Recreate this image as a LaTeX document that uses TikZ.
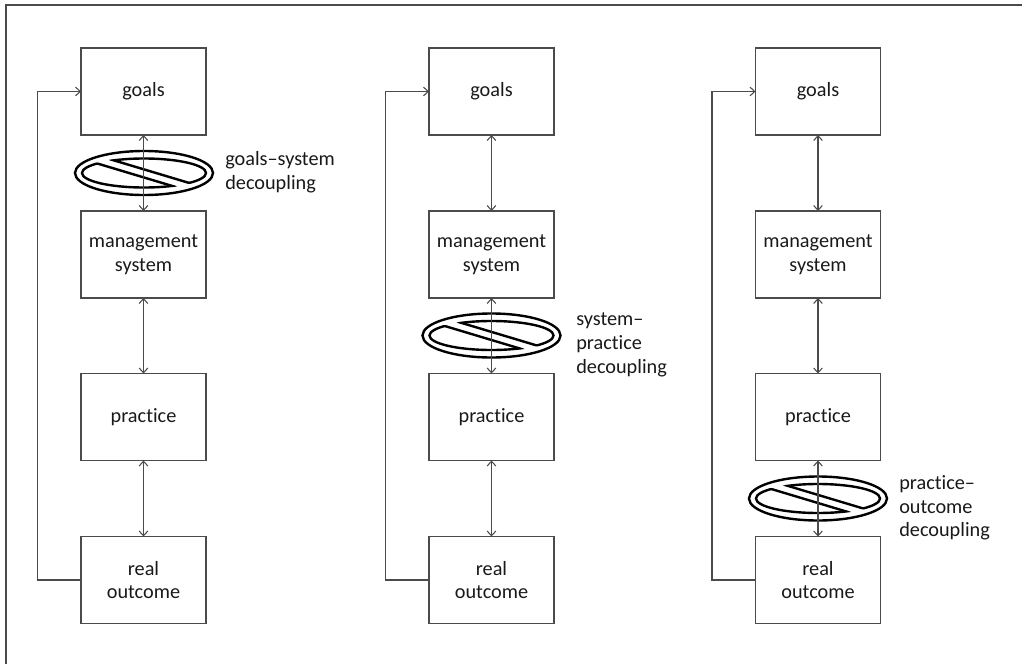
\documentclass[tikz,border=0pt]{standalone}
\usepackage{fontspec}
\setmainfont{Carlito}[Ligatures={NoCommon}]
\usetikzlibrary{arrows.meta}
\definecolor{linegray}{RGB}{75,75,75}
\definecolor{textgray}{RGB}{25,25,25}
\begin{document}
\begin{tikzpicture}[x=0.75pt,y=-0.75pt,
  box/.style={draw=linegray,line width=0.8pt,minimum width=93.75pt,minimum height=65.25pt,
    inner sep=0pt,outer sep=0pt,align=center,text=textgray,
    font=\fontsize{15.2}{17.8}\selectfont},
  lbl/.style={anchor=west,inner sep=0pt,align=left,text=textgray,
    font=\fontsize{15.2}{17.8}\selectfont},
  conn/.style={draw=linegray,line width=0.8pt},
  frameline/.style={draw=linegray,line width=1.5pt},
  symline/.style={draw=black,line width=1.8pt},
  >={Straight Barb[length=3.5pt,width=6.5pt]},
  decouple/.pic={
    \draw[symline] (0,0) ellipse [x radius=69, y radius=22];
    \begin{scope}
      \clip (0,0) ellipse [x radius=62.8, y radius=15.3];
      \draw[symline] (-80,-27.6) -- (80,20.4);
      \draw[symline] (-80,-19.5) -- (80,28.5);
    \end{scope}
    \begin{scope}
      \clip (-100,-100) -- (100,-100) -- (100,27.2) -- (-100,-32.8) -- cycle
            (-100,-26.3) -- (100,33.7) -- (100,100) -- (-100,100) -- cycle;
      \draw[symline] (0,0) ellipse [x radius=62, y radius=14.5];
    \end{scope}
  }]
\useasboundingbox (0,0) rectangle (1022,664);
\draw[frameline] (6,664) -- (6,5) -- (1022,5);

% column 1
\node[box] (g1) at (143.5,91.5) {goals};
\node[box] (m1) at (143.5,254.5) {management\\system};
\node[box] (p1) at (143.5,417) {practice};
\node[box] (r1) at (143.5,580) {real\\outcome};
% column 2
\node[box] (g2) at (491.5,91.5) {goals};
\node[box] (m2) at (491.5,254.5) {management\\system};
\node[box] (p2) at (491.5,417) {practice};
\node[box] (r2) at (491.5,580) {real\\outcome};
% column 3
\node[box] (g3) at (818,91.5) {goals};
\node[box] (m3) at (818,254.5) {management\\system};
\node[box] (p3) at (818,417) {practice};
\node[box] (r3) at (818,580) {real\\outcome};

% decoupling symbols
\pic at (144,173) {decouple};
\pic at (491.5,335.5) {decouple};
\pic at (818,498.5) {decouple};

\node[lbl] (l1) at (225,172) {goals–system\\decoupling};
\node[lbl] (l2) at (576,345) {system–\\practice\\decoupling};
\node[lbl] (l3) at (899,508) {practice–\\outcome\\decoupling};

% connectors
\foreach \c in {1,2,3}{
  \draw[conn,<->] (g\c.south) -- (m\c.north);
  \draw[conn,<->] (m\c.south) -- (p\c.north);
  \draw[conn,<->] (p\c.south) -- (r\c.north);
  \draw[conn,->] (r\c.west) -- ++(-43.5,0) |- (g\c.west);
}
\end{tikzpicture}
\end{document}
